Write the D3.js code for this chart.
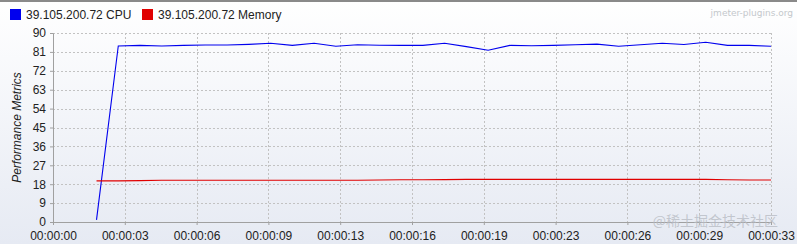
<!DOCTYPE html>
<html>
<head>
<meta charset="utf-8">
<script src="https://cdn.jsdelivr.net/npm/d3@7"></script>
<style>
  html, body { margin: 0; padding: 0; background: #fff; }
  #chart { width: 797px; height: 244px; }
  text { font-family: "Liberation Sans", Arial, sans-serif; }
</style>
</head>
<body>
<div id="chart"></div>
<script>
// seconds since start
const seconds = [2, 3, 4, 5, 6, 7, 8, 9, 10, 11, 12, 13, 14, 15, 16, 17,
  18, 19, 20, 21, 22, 23, 24, 25, 26, 27, 28, 29, 30, 31, 32, 33];
const cpuValues = [1, 83.8, 84.1, 83.8, 84.1, 84.3, 84.3, 84.6, 85.1, 84.1, 85.1, 83.7, 84.4, 84.2, 84.1, 84.1,
  85.1, 83.5, 81.8, 84.1, 83.9, 84.1, 84.4, 84.7, 83.7, 84.4, 85.1, 84.5, 85.6, 84.1, 84.1, 83.7];
const memoryValues = [19.6, 19.6, 19.7, 19.9, 19.9, 19.9, 19.9, 19.9, 19.9, 19.9, 19.9, 19.9, 19.9, 20.0, 20.1, 20.1,
  20.2, 20.3, 20.3, 20.3, 20.3, 20.3, 20.3, 20.3, 20.3, 20.3, 20.3, 20.3, 20.3, 20.1, 20.0, 20.0];
const seriesNames = ["39.105.200.72 CPU", "39.105.200.72 Memory"];
const seriesColors = ["#0000ee", "#e00000"];
const yTicks = [0, 9, 18, 27, 36, 45, 54, 63, 72, 81, 90];
const xTicks = [0, 3.3, 6.6, 9.9, 13.2, 16.5, 19.8, 23.1, 26.4, 29.7, 33];

const width = 797, height = 244;
const margin = { top: 33, right: 26, bottom: 22, left: 53 };
const plotW = width - margin.left - margin.right;
const plotH = height - margin.top - margin.bottom;

const svg = d3.select("#chart")
  .append("svg")
  .attr("width", width)
  .attr("height", height);

// background gradient
const defs = svg.append("defs");
const grad = defs.append("linearGradient")
  .attr("id", "bg")
  .attr("x1", 0).attr("y1", 0).attr("x2", 0).attr("y2", 1);
grad.append("stop").attr("offset", "0%").attr("stop-color", "#ffffff");
grad.append("stop").attr("offset", "100%").attr("stop-color", "#e6eaf3");

svg.append("rect")
  .attr("width", width)
  .attr("height", height)
  .attr("fill", "url(#bg)");

// top border
svg.append("rect")
  .attr("x", 0).attr("y", 0)
  .attr("width", width).attr("height", 2)
  .attr("fill", "#8a8a8a");

// watermark
svg.append("text")
  .attr("x", 793)
  .attr("y", 16)
  .attr("text-anchor", "end")
  .style("font-family", "'DejaVu Sans', sans-serif")
  .style("font-size", "9px")
  .style("fill", "#c4c8cc")
  .text("jmeter-plugins.org");

// legend
const legend = svg.append("g").attr("transform", "translate(10, 9)");
const legendX = [0, 132];
seriesNames.forEach((name, i) => {
  const g = legend.append("g").attr("transform", `translate(${legendX[i]}, 0)`);
  g.append("rect")
    .attr("width", 11).attr("height", 11)
    .attr("fill", seriesColors[i]);
  g.append("text")
    .attr("x", 16)
    .attr("y", 10)
    .style("font-size", "12px")
    .style("fill", "#222")
    .text(name);
});

const chart = svg.append("g")
  .attr("transform", `translate(${margin.left}, ${margin.top})`);

const x = d3.scaleLinear().domain([0, 33]).range([0, plotW]);
const y = d3.scaleLinear().domain([0, 90]).range([plotH, 0]);

// grid
chart.append("g")
  .selectAll("line")
  .data(yTicks.slice(1))
  .enter()
  .append("line")
  .attr("x1", 0).attr("x2", plotW)
  .attr("y1", d => Math.round(y(d)) + 0.5)
  .attr("y2", d => Math.round(y(d)) + 0.5)
  .attr("stroke", "#c2c2c2")
  .attr("stroke-dasharray", "2,2");

chart.append("g")
  .selectAll("line")
  .data(xTicks.slice(1))
  .enter()
  .append("line")
  .attr("y1", 0).attr("y2", plotH)
  .attr("x1", d => Math.round(x(d)) + 0.5)
  .attr("x2", d => Math.round(x(d)) + 0.5)
  .attr("stroke", "#c2c2c2")
  .attr("stroke-dasharray", "2,2");

// axes
const yAxis = chart.append("g")
  .call(d3.axisLeft(y).tickValues(yTicks).tickSize(3).tickPadding(4).tickFormat(d3.format("d")));
const xAxis = chart.append("g")
  .attr("transform", `translate(0, ${plotH})`)
  .call(d3.axisBottom(x).tickValues(xTicks).tickSize(3).tickPadding(6)
    .tickFormat(d => {
      const s = Math.floor(d + 1e-9);
      return "00:00:" + String(s).padStart(2, "0");
    }));

[yAxis, xAxis].forEach(a => {
  a.select(".domain").attr("stroke", "#a0a0a0");
  a.selectAll(".tick line").attr("stroke", "#a0a0a0");
  a.selectAll("text")
    .style("font-family", "'Liberation Sans', Arial, sans-serif")
    .style("font-size", "12px")
    .style("fill", "#222");
});

// y label
svg.append("text")
  .attr("transform", `translate(21, ${margin.top + plotH / 2}) rotate(-90)`)
  .attr("text-anchor", "middle")
  .style("font-size", "12px")
  .style("font-style", "italic")
  .style("fill", "#222")
  .text("Performance Metrics");

// lines
const line = d3.line()
  .x(d => x(d[0]))
  .y(d => y(d[1]));

[cpuValues, memoryValues].forEach((vals, i) => {
  chart.append("path")
    .datum(seconds.map((s, j) => [s, vals[j]]))
    .attr("fill", "none")
    .attr("stroke", seriesColors[i])
    .attr("stroke-width", 1.1)
    .attr("d", line);
});

// site watermark
svg.append("text")
  .attr("x", 778)
  .attr("y", 226)
  .attr("text-anchor", "end")
  .style("font-family", "'Noto Sans CJK SC', sans-serif")
  .style("font-size", "14px")
  .style("fill", "#b8bcc4")
  .style("fill-opacity", 0.8)
  .text("@稀土掘金技术社区");
</script>
</body>
</html>
